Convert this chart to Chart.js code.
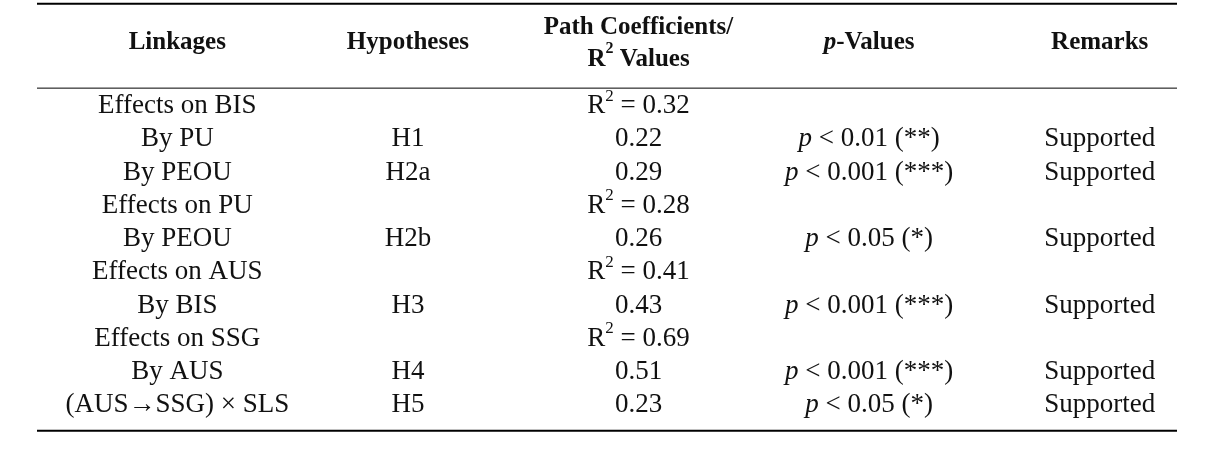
<!DOCTYPE html>
<html><head><meta charset="utf-8">
<script src="https://cdn.jsdelivr.net/npm/chart.js@4/dist/chart.umd.min.js"></script>
<style>html,body{margin:0;background:#fff}#w{width:1215px;height:456px}</style>
</head><body><div id="w"><canvas id="c"></canvas></div>
<script>
const columns = ["Linkages","Hypotheses","Path","pValues","Remarks"];
const linkages = ["Effects on BIS","By PU","By PEOU","Effects on PU","By PEOU","Effects on AUS","By BIS","Effects on SSG","By AUS","(AUS\u2192SSG) \u00d7 SLS"];
const hypotheses = ["","H1","H2a","","H2b","","H3","","H4","H5"];
const coefficients = ["R2 = 0.32","0.22","0.29","R2 = 0.28","0.26","R2 = 0.41","0.43","R2 = 0.69","0.51","0.23"];
const pValues = ["","< 0.01 (**)","< 0.001 (***)","","< 0.05 (*)","","< 0.001 (***)","","< 0.001 (***)","< 0.05 (*)"];
const remarks = ["","Supported","Supported","","Supported","","Supported","","Supported","Supported"];
const headerRow = -1.92, ruleTop = -3.08, ruleHead = -0.54, ruleBottom = 9.76;

const F = '"Liberation Serif", serif';
function drawSegs(ctx, segs, cx, cy){
  let total = 0;
  segs.forEach(s=>{ctx.font=s.f; total+=ctx.measureText(s.t).width;});
  let x = cx - total/2;
  segs.forEach(s=>{ctx.font=s.f; ctx.fillText(s.t, x, cy + (s.dy||0)); x+=ctx.measureText(s.t).width;});
}
function cellSegs(col, txt){
  const n = '27px '+F, sup = '17px '+F;
  if(col===2 && txt.startsWith('R2')) return [{t:'R',f:n},{t:'2',f:sup,dy:-10},{t:txt.slice(2),f:n}];
  if(col===3 && txt) return [{t:'p',f:'italic 27px '+F},{t:' '+txt,f:n}];
  return [{t:txt,f:n}];
}
const tablePlugin = {
  id:'table',
  afterDatasetsDraw(chart){
    const ctx = chart.ctx, xs = chart.scales.x, ys = chart.scales.y;
    ctx.save(); ctx.fillStyle='#111'; ctx.textBaseline='middle'; ctx.textAlign='left';
    const cols = [linkages,hypotheses,coefficients,pValues,remarks];
    cols.forEach((arr,ci)=>arr.forEach((t,ri)=>{
      if(!t) return;
      drawSegs(ctx, cellSegs(ci,t), xs.getPixelForValue(ci), ys.getPixelForValue(ri));
    }));
    const hb='bold 25px '+F, hs='bold 16px '+F, hy=ys.getPixelForValue(headerRow);
    drawSegs(ctx,[{t:'Linkages',f:hb}],xs.getPixelForValue(0),hy);
    drawSegs(ctx,[{t:'Hypotheses',f:hb}],xs.getPixelForValue(1),hy);
    drawSegs(ctx,[{t:'Path Coefficients/',f:hb}],xs.getPixelForValue(2),hy-15);
    drawSegs(ctx,[{t:'R',f:hb},{t:'2',f:hs,dy:-10},{t:' Values',f:hb}],xs.getPixelForValue(2),hy+17);
    drawSegs(ctx,[{t:'p',f:'bold italic 25px '+F},{t:'-Values',f:hb}],xs.getPixelForValue(3),hy);
    drawSegs(ctx,[{t:'Remarks',f:hb}],xs.getPixelForValue(4),hy);
    ctx.strokeStyle='#000';
    [[ruleTop,2],[ruleHead,1],[ruleBottom,2]].forEach(([v,lw])=>{
      const y=ys.getPixelForValue(v); ctx.lineWidth=lw;
      ctx.beginPath(); ctx.moveTo(37,y); ctx.lineTo(1177,y); ctx.stroke();
    });
    ctx.restore();
  }
};
const pts=[]; linkages.forEach((_,r)=>columns.forEach((c,ci)=>pts.push({x:c,y:r})));
new Chart(document.getElementById('c'),{
  type:'scatter',
  data:{labels:columns,datasets:[{data:pts,pointRadius:0}]},
  options:{responsive:true,maintainAspectRatio:false,animation:false,
    layout:{padding:{left:62,right:0,top:3,bottom:24}},
    plugins:{legend:{display:false},tooltip:{enabled:false}},
    scales:{
      x:{type:'category',labels:columns,offset:true,display:false},
      y:{type:'linear',reverse:true,min:ruleTop-0.02,max:ruleBottom+0.04,display:false}
    }},
  plugins:[tablePlugin]
});
</script></body></html>
